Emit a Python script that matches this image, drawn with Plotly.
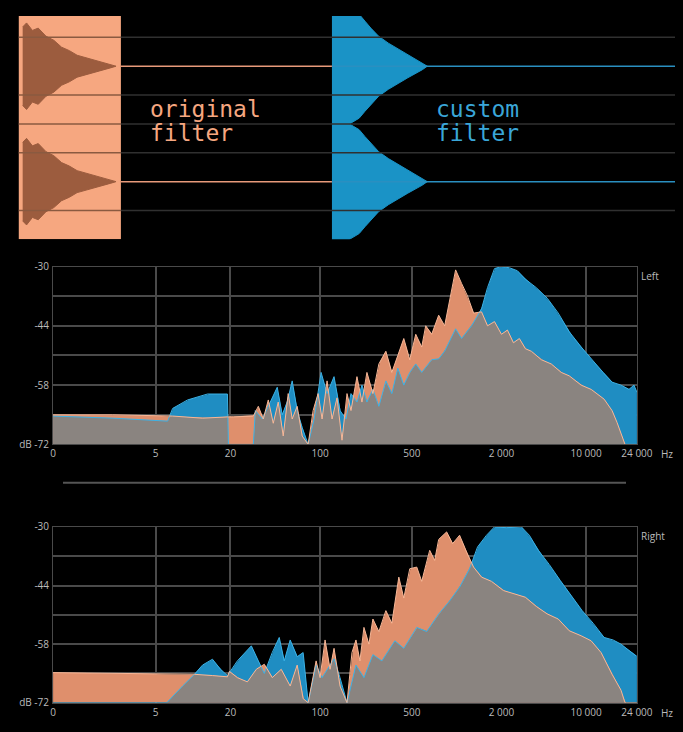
import numpy as np
import plotly.graph_objects as go

# ---------- data ----------
FREQ_TICK_POS = [0, 103, 178, 268, 360, 450, 535, 586]
FREQ_TICK_TXT = ["0", "5", "20", "100", "500", "2 000", "10 000", "24 000"]
DB_TICKS = [-30, -44, -58, -72]

LEFT_ORANGE = [(0,-65),(60,-65),(120,-65.3),(150,-65.8),(175,-65.5),(181,-65.5),(201,-65.3),(206,-63),(211,-66),(216,-61.5),(221,-67),(226,-62),(231,-70),(236,-60),(240,-66),(245,-63),(250,-70),(256,-72),(261,-64),(266,-60),(270,-66),(275,-57),(280,-66),(285,-61),(290,-71),(295,-60),(299,-64),(305,-56),(310,-62),(315,-55),(321,-60),(327,-53),(334,-50),(340,-55),(346,-51),(352,-47),(358,-52),(364,-46),(370,-49),(374,-44),(380,-46),(387,-41.5),(393,-44),(398,-38),(404,-30.8),(410,-34),(416,-37),(422,-41),(430,-40.7),(436,-44),(443,-43),(450,-46),(456,-45),(462,-48),(468,-47),(474,-49.4),(480,-50),(490,-52),(500,-53),(510,-55),(518,-55.8),(530,-58),(540,-59),(553,-61.3),(561,-64),(566,-66.8),(574,-72),(586,-72)]
LEFT_BLUE = [(0,-65.3),(60,-65.8),(115,-66.5),(120,-63.5),(135,-61.5),(155,-60.1),(175,-60.1),(176,-72),(201,-72),(203,-64),(210,-66),(218,-62),(225,-58.5),(230,-65),(235,-62),(240,-57),(245,-64),(250,-68),(256,-72),(262,-66),(269,-55),(275,-60),(282,-56),(288,-64),(294,-66),(299,-60),(305,-62),(310,-58),(315,-62),(321,-59),(327,-63),(334,-57),(340,-60),(346,-54),(352,-58),(358,-55),(364,-53),(370,-55),(380,-52),(387,-51.8),(393,-50),(404,-44.7),(410,-47),(420,-44),(430,-40),(436,-35),(443,-30.5),(450,-30),(458,-30.3),(466,-31),(474,-33),(485,-35),(496,-37.5),(507,-41),(518,-45.4),(530,-49),(540,-51.8),(552,-55),(561,-57.3),(570,-58),(578,-59),(583,-58),(586,-59.7)]
RIGHT_ORANGE = [(0,-64.8),(142,-65.2),(160,-65.5),(175,-65.8),(177,-64.5),(185,-66),(195,-67),(204,-64),(212,-62.8),(220,-66),(229,-64),(238,-68),(245,-63),(251,-71),(256,-72),(264,-62),(268,-66),(273,-57),(278,-64),(282,-59),(288,-68),(295,-72),(300,-60),(304,-57),(308,-62),(312,-54),(317,-58),(321,-52),(327,-55),(334,-50),(340,-53),(347,-42),(352,-47),(358,-40),(365,-39.6),(370,-43),(378,-35.6),(383,-38),(387,-33),(395,-31.2),(401,-34),(408,-32),(415,-36),(422,-39.6),(430,-42),(440,-43),(452,-45.2),(462,-46),(474,-46.8),(485,-49),(496,-50.8),(507,-52),(518,-54.8),(530,-56),(540,-57.2),(550,-60),(561,-65.2),(570,-69),(574,-72),(586,-72)]
RIGHT_BLUE = [(0,-72),(114,-72),(130,-68),(142,-65.2),(150,-63),(160,-61.6),(168,-64),(175,-65.5),(185,-62),(199,-58.4),(206,-62),(212,-65),(220,-60),(227,-56.4),(232,-62),(238,-57),(245,-61),(251,-60),(256,-72),(264,-63),(270,-66),(282,-61.5),(288,-66),(295,-72),(304,-63),(312,-66),(321,-60.5),(330,-62),(343,-57.2),(352,-59),(365,-54),(375,-55),(387,-50.8),(397,-48),(408,-44.4),(418,-40),(426,-34.8),(435,-32),(443,-30),(455,-30.2),(470,-30),(478,-32),(487,-35.6),(498,-39),(509,-42.8),(520,-46.5),(531,-50),(542,-53),(553,-56.4),(562,-57),(570,-58),(578,-59.5),(585,-60.8)]

WAVE_ORANGE_ENV = [(4,0.68),(8,0.75),(14,0.62),(20,0.66),(28,0.52),(36,0.45),(44,0.33),(52,0.27),(60,0.19),(68,0.15),(76,0.11),(85,0.07),(94,0.03),(100,0.0)]
WAVE_BLUE_ENV = [(322,1.0),(340,1.0),(344,0.96),(350,0.9),(356,0.78),(362,0.66),(370,0.52),(380,0.4),(390,0.3),(400,0.2),(408,0.12),(415,0.06),(420,0.0)]

# ---------- colours ----------
OR_FILL = "#df8f6c"; OR_LINE = "#f7b797"
BL_FILL = "#1f8dc2"; BL_LINE = "#3cb2e6"
GRAY = "#8a8480"; GRID = "#4a4a4a"

W, H, M, S, DY = 692, 742, 8, 0.976, 11
def fx(px):
    return max(0.0, min(1.0, (px / S - M) / W))
def fy(py):
    return max(0.0, min(1.0, 1 - ((py - DY) / S - M) / H))

fig = go.Figure()

def env_poly(env, c):
    xs = [p[0] for p in env]; a = [p[1] for p in env]
    return xs + xs[::-1], [c + v for v in a] + [c - v for v in a[::-1]]

shapes = []
shapes.append(dict(type="rect", xref="x", yref="y", x0=0, x1=105, y0=-2.0, y1=2.0,
                   fillcolor="#f6a780", line=dict(width=0), layer="below"))
for gy in [1.5, 0.5, 0.0, -0.5, -1.5]:
    shapes.append(dict(type="line", xref="x", yref="y", x0=0, x1=105, y0=gy, y1=gy,
                       line=dict(color="#8a5a40", width=1.5)))
    shapes.append(dict(type="line", xref="x", yref="y", x0=105, x1=678, y0=gy, y1=gy,
                       line=dict(color="#303030", width=1.5)))
for c in [1.0, -1.0]:
    shapes.append(dict(type="line", xref="x", yref="y", x0=105, x1=322, y0=c, y1=c,
                       line=dict(color="#e89a7a", width=1.5)))
    shapes.append(dict(type="line", xref="x", yref="y", x0=322, x1=678, y0=c, y1=c,
                       line=dict(color="#2a8fc0", width=1.5)))
    for env, col in [(WAVE_ORANGE_ENV, "#9c5c3e"), (WAVE_BLUE_ENV, "#1a93c6")]:
        xs, ys = env_poly(env, c)
        fig.add_trace(go.Scatter(x=xs, y=ys, fill="toself", fillcolor=col, mode="lines",
                                 line=dict(color=col, width=1), xaxis="x", yaxis="y",
                                 hoverinfo="skip", showlegend=False))

ann = []
for txt, yy in [("original", 0.26), ("filter", -0.16)]:
    ann.append(dict(x=133, y=yy, xref="x", yref="y", text=txt, showarrow=False, xanchor="left",
                    font=dict(family="DejaVu Sans Mono", size=23, color="#f6a780")))
for txt, yy in [("custom", 0.26), ("filter", -0.16)]:
    ann.append(dict(x=427, y=yy, xref="x", yref="y", text=txt, showarrow=False, xanchor="left",
                    font=dict(family="DejaVu Sans Mono", size=23, color="#3aa6d8")))

grid = np.linspace(0, 586, 1200)
def add_spectrum(orange, blue, xa, ya, label):
    ox, oy = zip(*orange); bx, by = zip(*blue)
    gi_o = np.interp(grid, ox, oy); gi_b = np.interp(grid, bx, by)
    gmin = np.minimum(gi_o, gi_b)
    for ys, col in [(gi_b, BL_FILL), (gi_o, OR_FILL), (gmin, GRAY)]:
        fig.add_trace(go.Scatter(x=grid, y=np.full_like(grid, -72.0), mode="lines",
                                 line=dict(width=0), xaxis=xa, yaxis=ya, hoverinfo="skip", showlegend=False))
        fig.add_trace(go.Scatter(x=grid, y=ys, mode="lines", fill="tonexty", fillcolor=col,
                                 line=dict(width=0), xaxis=xa, yaxis=ya, hoverinfo="skip", showlegend=False))
    fig.add_trace(go.Scatter(x=bx, y=by, mode="lines", line=dict(color=BL_LINE, width=1),
                             xaxis=xa, yaxis=ya, hoverinfo="skip", showlegend=False))
    fig.add_trace(go.Scatter(x=ox, y=oy, mode="lines", line=dict(color=OR_LINE, width=1),
                             xaxis=xa, yaxis=ya, hoverinfo="skip", showlegend=False))
    ann.append(dict(x=1.0, y=-30, xref=xa + " domain", yref=ya, text=label, showarrow=False,
                    xanchor="left", yanchor="top", xshift=2,
                    font=dict(family="Open Sans", size=10, color="#bbbbbb")))
    ann.append(dict(x=1.0, y=0, xref=xa + " domain", yref=ya + " domain", text="Hz", showarrow=False,
                    xanchor="left", yanchor="top", xshift=22, yshift=-1,
                    font=dict(family="Open Sans", size=10, color="#bbbbbb")))

add_spectrum(LEFT_ORANGE, LEFT_BLUE, "x2", "y2", "Left")
add_spectrum(RIGHT_ORANGE, RIGHT_BLUE, "x3", "y3", "Right")

shapes.append(dict(type="line", xref="paper", yref="paper", x0=fx(60), x1=fx(625),
                   y0=fy(483), y1=fy(483), line=dict(color="#555555", width=2)))

ax_common = dict(range=[0, 586], tickvals=FREQ_TICK_POS, ticktext=FREQ_TICK_TXT, showgrid=True,
                 gridcolor=GRID, gridwidth=1.5, zeroline=False, showline=True, linecolor=GRID,
                 tickfont=dict(family="Open Sans", size=10, color="#bbbbbb"), ticks="", mirror=True)
ay_common = dict(range=[-72, -30], tickvals=DB_TICKS, ticktext=["-30", "-44", "-58", "dB -72"],
                 showgrid=True, gridcolor=GRID, gridwidth=1.5, zeroline=False, showline=True,
                 linecolor=GRID, mirror=True, tickfont=dict(family="Open Sans", size=10, color="#bbbbbb"),
                 ticks="", ticklabelstandoff=1)
minor = dict(tickvals=[-37, -51, -65], showgrid=True, gridcolor=GRID, gridwidth=1.5)

fig.update_layout(
    width=W, height=H, margin=dict(l=0, r=0, t=0, b=0),
    paper_bgcolor="#000000", plot_bgcolor="#000000", showlegend=False,
    shapes=shapes, annotations=ann,
    xaxis=dict(domain=[0, 1], range=[-8, 684], visible=False),
    yaxis=dict(domain=[fy(241), 1], range=[-2.0, 1.87], visible=False),
    xaxis2=dict(domain=[fx(50), fx(636)], anchor="y2", **ax_common),
    yaxis2=dict(domain=[fy(445), fy(268)], anchor="x2", minor=minor, **ay_common),
    xaxis3=dict(domain=[fx(50), fx(636)], anchor="y3", **ax_common),
    yaxis3=dict(domain=[fy(702), fy(527)], anchor="x3", minor=minor, **ay_common),
)
fig.write_html("out.html", config={"responsive": False, "displayModeBar": False},
               post_script="document.documentElement.style.background='#000';document.body.style.background='#000';")
